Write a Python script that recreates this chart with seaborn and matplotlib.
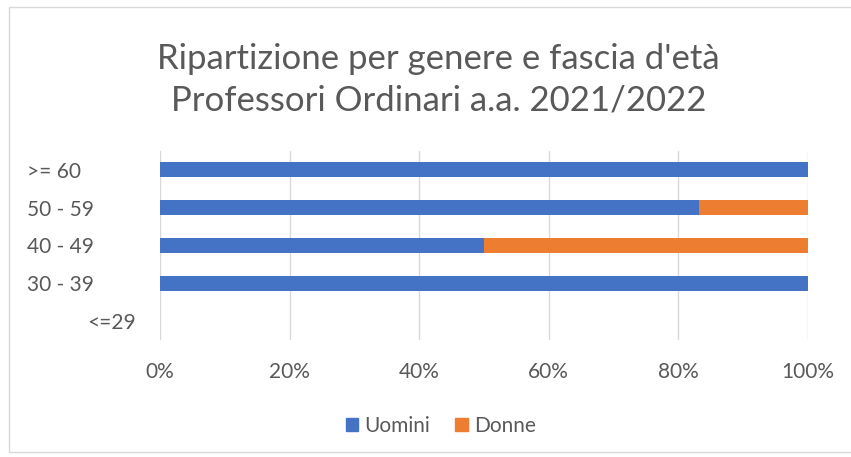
import pandas as pd
import matplotlib.pyplot as plt
import matplotlib.transforms as mtransforms
import seaborn as sns
from matplotlib.patches import Patch, Rectangle

# dati (percentuali per fascia d'età)
fasce = [">= 60", "50 - 59", "40 - 49", "30 - 39", "<=29"]
uomini = [100.0, 83.3, 50.0, 100.0, 0.0]
donne = [0.0, 16.7, 50.0, 0.0, 0.0]

COLORE_UOMINI = "#4472C4"
COLORE_DONNE = "#ED7D31"
GRIGIO_TESTO = "#595959"

sns.set_theme(style="white")
plt.rcParams["font.family"] = ["Lato", "DejaVu Sans"]

df = pd.DataFrame({"Fascia": fasce, "Uomini": uomini, "Donne": donne})
df["Totale"] = df["Uomini"] + df["Donne"]

fig = plt.figure(figsize=(8.51, 4.57), dpi=100)
ax = fig.add_axes([0.188, 0.256, 0.761, 0.414])

# barre impilate: prima il totale (donne), poi gli uomini sopra
sns.barplot(data=df, y="Fascia", x="Totale", color=COLORE_DONNE, width=0.4,
            order=fasce, ax=ax, orient="h", saturation=1, linewidth=0)
sns.barplot(data=df, y="Fascia", x="Uomini", color=COLORE_UOMINI, width=0.4,
            order=fasce, ax=ax, orient="h", saturation=1, linewidth=0)

ax.set_xlim(0, 100)
ax.set_xticks([0, 20, 40, 60, 80, 100])
ax.set_xticklabels([f"{v}%" for v in [0, 20, 40, 60, 80, 100]])
ax.xaxis.grid(True, color="#D9D9D9", linewidth=1)
ax.set_axisbelow(True)
for s in ax.spines.values():
    s.set_visible(False)
ax.set_xlabel("")
ax.set_ylabel("")
ax.tick_params(axis="both", length=0, labelsize=15, colors=GRIGIO_TESTO)
ax.tick_params(axis="x", pad=16)
ax.tick_params(axis="y", pad=96)
for lab in ax.get_yticklabels():
    lab.set_horizontalalignment("left")
    if lab.get_text() == "<=29":
        # Excel sposta questa etichetta verso destra
        lab.set_transform(lab.get_transform() +
                          mtransforms.ScaledTranslation(0.61, 0, fig.dpi_scale_trans))

fig.text(0.515, 0.87, "Ripartizione per genere e fascia d'età", ha="center", va="center",
         fontsize=25, color=GRIGIO_TESTO)
fig.text(0.515, 0.78, "Professori Ordinari a.a. 2021/2022", ha="center", va="center",
         fontsize=25, color=GRIGIO_TESTO)

handles = [Patch(color=COLORE_UOMINI, label="Uomini"), Patch(color=COLORE_DONNE, label="Donne")]
fig.legend(handles=handles, loc="center", bbox_to_anchor=(0.518, 0.068), ncol=2, frameon=False,
           fontsize=15, handlelength=0.6, handleheight=0.6, handletextpad=0.3,
           columnspacing=1.2, labelcolor=GRIGIO_TESTO)

# cornice grigia del grafico
fig.patches.append(Rectangle((0.011, 0.01), 0.99, 0.975, transform=fig.transFigure,
                             fill=False, edgecolor="#D9D9D9", linewidth=1))

fig.savefig("out.png", dpi=100)
